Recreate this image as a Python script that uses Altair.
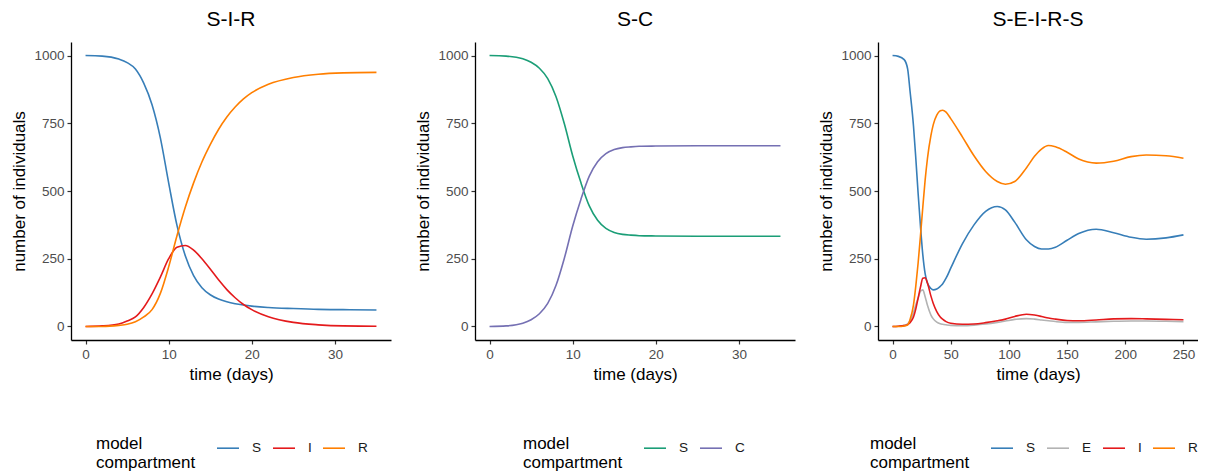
import altair as alt
import pandas as pd

# ---------------- data ----------------
# S-I-R
sir_t = [0, 2, 4, 5, 6, 7, 8, 9, 10, 11, 12, 13, 14, 15, 16, 17, 18, 19, 20, 22, 25, 28, 31, 35]
sir_S = [1000, 998, 987, 974, 950, 898, 818, 696, 530, 373, 261, 188, 143, 117, 101, 91, 84, 79, 75, 70, 66, 63, 62, 61]
sir_I = [0, 2, 9, 20, 35, 70, 120, 182, 250, 292, 299, 282, 250, 212, 172, 136, 106, 81, 62, 36, 15, 6, 2, 1]
sir_R = [0, 0, 4, 8, 17, 35, 62, 122, 220, 335, 440, 530, 607, 671, 727, 773, 810, 840, 863, 894, 919, 931, 936, 938]

# S-C
sc_t = [0, 2, 4, 5, 6, 7, 8, 9, 10, 11, 12, 13, 14, 15, 16, 17, 18, 20, 25, 30, 35]
sc_S = [1000, 998, 988, 975, 953, 915, 848, 748, 630, 530, 445, 392, 362, 347, 340, 337, 335, 334, 333, 333, 333]
sc_C = [0, 2, 12, 25, 47, 85, 152, 252, 370, 470, 555, 608, 638, 653, 660, 663, 665, 666, 667, 667, 667]

# S-E-I-R-S
seirs_t = [0, 5, 10, 13, 15, 18, 20, 22, 24, 26, 28, 30, 33, 35, 38, 41, 43, 46, 50, 60, 70, 80, 90, 97,
           105, 115, 122, 128, 134, 140, 150, 160, 175, 190, 205, 218, 235, 250]
seirs_S = [1000, 997, 985, 950, 870, 740, 620, 490, 370, 265, 195, 160, 140, 135, 138, 148, 157, 178, 215,
           305, 375, 425, 443, 430, 385, 320, 295, 286, 286, 292, 318, 343, 359, 346, 329, 322, 327, 338]
seirs_E = [0, 1, 4, 10, 20, 50, 80, 105, 130, 135, 110, 78, 42, 28, 16, 10, 8, 6, 4, 3, 5, 9, 15, 20,
           26, 29, 27, 24, 21, 18, 15, 15, 17, 19, 20, 20, 19, 18]
seirs_I = [0, 1, 3, 7, 14, 35, 65, 105, 145, 178, 180, 160, 112, 85, 55, 35, 27, 18, 12, 8, 9, 14, 21, 27,
           37, 45, 42, 37, 31, 27, 22, 21, 24, 28, 29, 28, 26, 25]
seirs_R = [0, 0, 2, 6, 25, 80, 150, 235, 335, 440, 540, 620, 705, 745, 780, 796, 798, 791, 767, 700, 630,
           572, 535, 525, 535, 585, 628, 655, 668, 663, 643, 618, 603, 610, 627, 633, 630, 621]

y_ticks = [0, 250, 500, 750, 1000]
x_ticks_short = [0, 10, 20, 30]
x_ticks_long = [0, 50, 100, 150, 200, 250]


def long_frame(t, series):
    rows = []
    for name, vals in series:
        for ti, v in zip(t, vals):
            rows.append({"time": ti, "value": v, "compartment": name})
    return pd.DataFrame(rows)


FONT = "Liberation Sans"


def panel(df, title, names, colors, xdomain, xticks, legend_x):
    legend = alt.Legend(
        orient="none", legendX=legend_x, legendY=394,
        direction="horizontal",
        title=["model", "compartment"],
        titleOrient="left", titleAnchor="start", titleBaseline="top",
        titleFontSize=17, titleFontWeight="normal", titleColor="black", titleFont=FONT,
        titleLineHeight=19, titlePadding=20,
        labelFontSize=13.6, labelColor="#1a1a1a", labelFont=FONT,
        symbolType="stroke", symbolSize=484, symbolStrokeWidth=1.6,
        labelOffset=12, columnPadding=7, padding=0,
    )
    return alt.Chart(df).mark_line(strokeWidth=1.6, interpolate="monotone").encode(
        x=alt.X("time:Q",
                scale=alt.Scale(domain=xdomain, nice=False, zero=False),
                axis=alt.Axis(values=xticks, title="time (days)", format="d")),
        y=alt.Y("value:Q",
                scale=alt.Scale(domain=[-50, 1050], nice=False),
                axis=alt.Axis(values=y_ticks, title="number of individuals", format="d")),
        color=alt.Color("compartment:N",
                        scale=alt.Scale(domain=names, range=colors),
                        sort=names, legend=legend),
    ).properties(width=320, height=298, title=title)


df_sir = long_frame(sir_t, [("S", sir_S), ("I", sir_I), ("R", sir_R)])
df_sc = long_frame(sc_t, [("S", sc_S), ("C", sc_C)])
df_seirs = long_frame(seirs_t, [("S", seirs_S), ("E", seirs_E), ("I", seirs_I), ("R", seirs_R)])

p1 = panel(df_sir, "S-I-R", ["S", "I", "R"], ["#377EB8", "#E41A1C", "#FF7F00"],
           [-1.75, 36.75], x_ticks_short, 25)
p2 = panel(df_sc, "S-C", ["S", "C"], ["#1B9E77", "#7570B3"],
           [-1.75, 36.75], x_ticks_short, 48)
p3 = panel(df_seirs, "S-E-I-R-S", ["S", "E", "I", "R"], ["#377EB8", "#B3B3B3", "#E41A1C", "#FF7F00"],
           [-12.5, 262.5], x_ticks_long, -8)

left_pair = alt.hconcat(p1, p2, spacing=23).resolve_scale(
    color="independent", x="independent", y="independent"
)
chart = alt.hconcat(left_pair, p3, spacing=22).resolve_scale(
    color="independent", x="independent", y="independent"
).properties(
    padding={"left": 10, "top": 9, "right": 0, "bottom": 0},
    background="white",
).configure_view(stroke=None).configure_axis(
    grid=False,
    domainColor="black", domainWidth=1.3,
    tickColor="#333333", tickWidth=1.2, tickSize=4,
    labelColor="#4D4D4D", labelFontSize=13.5, labelFont=FONT, labelPadding=3,
    titleColor="black", titleFontSize=17, titleFont=FONT, titleFontWeight="normal",
).configure_axisY(titlePadding=5).configure_axisX(titlePadding=6).configure_title(
    fontSize=21, fontWeight="normal", font=FONT, color="black", anchor="middle", offset=12
)

chart.save("out.html", embed_options={"renderer": "svg", "actions": False})
